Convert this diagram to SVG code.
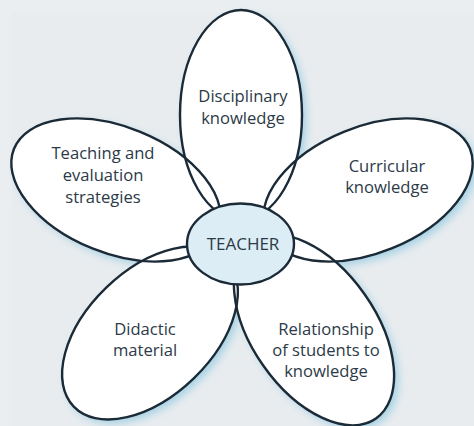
<svg xmlns="http://www.w3.org/2000/svg" width="474" height="426" viewBox="0 0 474 426">
<defs>
<style>
.bg{fill:#eaeef1}
.panel{fill:#e8ecef}
.shadow{fill:#a3d0e3;filter:url(#blur)}
.fill{fill:#ffffff}
.outline{fill:none;stroke:#1b2a37;stroke-width:2.4}
.label{font-family:"Open Sans","Noto Sans",sans-serif;font-size:16.6px;fill:#2c3a47;text-anchor:middle}
.center{fill:#dcedf5;stroke:#1b2a37;stroke-width:2.4}
</style>
<filter id="blur" x="-25%" y="-25%" width="150%" height="150%"><feGaussianBlur stdDeviation="4"/></filter>
<ellipse id="p1" cx="241" cy="115" rx="61" ry="105"/>
<ellipse id="p2" cx="0" cy="0" rx="110" ry="63" transform="translate(368 190) rotate(-22)"/>
<ellipse id="p3" cx="0" cy="0" rx="108" ry="62" transform="translate(314 330) rotate(55)"/>
<ellipse id="p4" cx="0" cy="0" rx="106" ry="63" transform="translate(150 333) rotate(-44)"/>
<ellipse id="p5" cx="0" cy="0" rx="110" ry="63" transform="translate(116 190) rotate(22)"/>
</defs>
<rect class="bg" x="0" y="0" width="474" height="426"/>
<rect class="panel" x="12" y="13" width="462" height="413"/>
<g id="petal-shadows">
<use href="#p1" class="shadow" transform="translate(4 4)"/>
<use href="#p2" class="shadow" transform="translate(4 4)"/>
<use href="#p3" class="shadow" transform="translate(4 4)"/>
<use href="#p4" class="shadow" transform="translate(4 4)"/>
<use href="#p5" class="shadow" transform="translate(4 4)"/>
</g>
<g id="petal-fills">
<use href="#p1" class="fill"/>
<use href="#p2" class="fill"/>
<use href="#p3" class="fill"/>
<use href="#p4" class="fill"/>
<use href="#p5" class="fill"/>
</g>
<g id="disciplinary-knowledge">
<use href="#p1" class="outline"/>
<text class="label" x="243" y="102">Disciplinary</text>
<text class="label" x="243" y="124">knowledge</text>
</g>
<g id="curricular-knowledge">
<use href="#p2" class="outline"/>
<text class="label" x="387" y="172">Curricular</text>
<text class="label" x="387" y="193">knowledge</text>
</g>
<g id="relationship-students-knowledge">
<use href="#p3" class="outline"/>
<text class="label" x="326" y="335">Relationship</text>
<text class="label" x="326" y="356">of students to</text>
<text class="label" x="326" y="377">knowledge</text>
</g>
<g id="didactic-material">
<use href="#p4" class="outline"/>
<text class="label" x="145" y="335">Didactic</text>
<text class="label" x="145" y="356">material</text>
</g>
<g id="teaching-evaluation-strategies">
<use href="#p5" class="outline"/>
<text class="label" x="103" y="159">Teaching and</text>
<text class="label" x="103" y="181">evaluation</text>
<text class="label" x="103" y="203">strategies</text>
</g>
<g id="teacher">
<ellipse class="center" cx="240.5" cy="244" rx="53.5" ry="40.5"/>
<text class="label" x="243" y="250" style="font-size:17px">TEACHER</text>
</g>
</svg>
